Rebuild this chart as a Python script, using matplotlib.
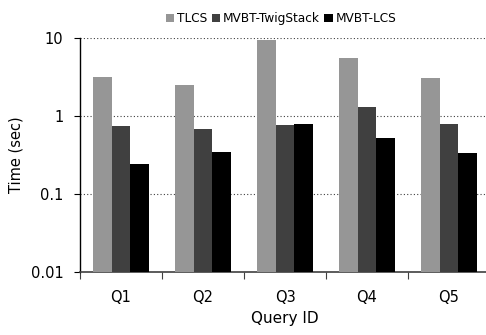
import matplotlib
matplotlib.use("Agg")
import matplotlib.pyplot as plt
import numpy as np

queries = ["Q1", "Q2", "Q3", "Q4", "Q5"]
series_names = ["TLCS", "MVBT-TwigStack", "MVBT-LCS"]
tlcs = [3.2, 2.5, 9.5, 5.5, 3.07]
mvbt_twigstack = [0.74, 0.68, 0.77, 1.30, 0.79]
mvbt_lcs = [0.243, 0.345, 0.79, 0.52, 0.336]
colors = ["#969696", "#404040", "#000000"]

plt.rcParams.update({"font.family": "DejaVu Sans", "font.size": 10})

fig = plt.figure(figsize=(4.86, 3.35), dpi=100)
ax = fig.add_axes([80 / 486, 63 / 335, 410 / 486, 234 / 335])

x = np.arange(len(queries))
width = 0.224
for i, (vals, name) in enumerate(zip([tlcs, mvbt_twigstack, mvbt_lcs], series_names)):
    ax.bar(x + (i - 1) * width, vals, width=width, color=colors[i], label=name,
           zorder=3, linewidth=0)

ax.set_yscale("log")
ax.set_ylim(0.01, 10)
ax.set_yticks([0.01, 0.1, 1, 10])
ax.set_yticklabels(["0.01", "0.1", "1", "10"], fontsize=10.5)
ax.minorticks_off()
ax.set_xlim(-0.5, len(queries) - 0.5)
ax.set_xticks(x)
ax.set_xticklabels(queries, fontsize=10.5)
ax.set_xticks(np.arange(len(queries) + 1) - 0.5, minor=True)
ax.tick_params(axis="x", which="major", length=0, pad=13)
ax.tick_params(axis="x", which="minor", length=5, width=0.8, color="#404040")
ax.tick_params(axis="y", length=4, width=0.8, pad=8)

ax.yaxis.grid(True, linestyle=(0, (1, 2)), color="#404040", linewidth=0.8, zorder=0)
for spine in ["top", "right"]:
    ax.spines[spine].set_visible(False)
ax.spines["left"].set_linewidth(1.0)
ax.spines["bottom"].set_color("#404040")
ax.spines["bottom"].set_linewidth(1.2)

ax.set_ylabel("Time (sec)", fontsize=10.5, labelpad=5)
ax.set_xlabel("Query ID", fontsize=11, labelpad=4)

ax.legend(loc="lower center", bbox_to_anchor=(0.49, 1.035), ncol=3, frameon=False,
          fontsize=8.7, handlelength=0.7, handleheight=0.7, handletextpad=0.2,
          columnspacing=0.4, borderaxespad=0)

fig.savefig("out.png", dpi=100)
